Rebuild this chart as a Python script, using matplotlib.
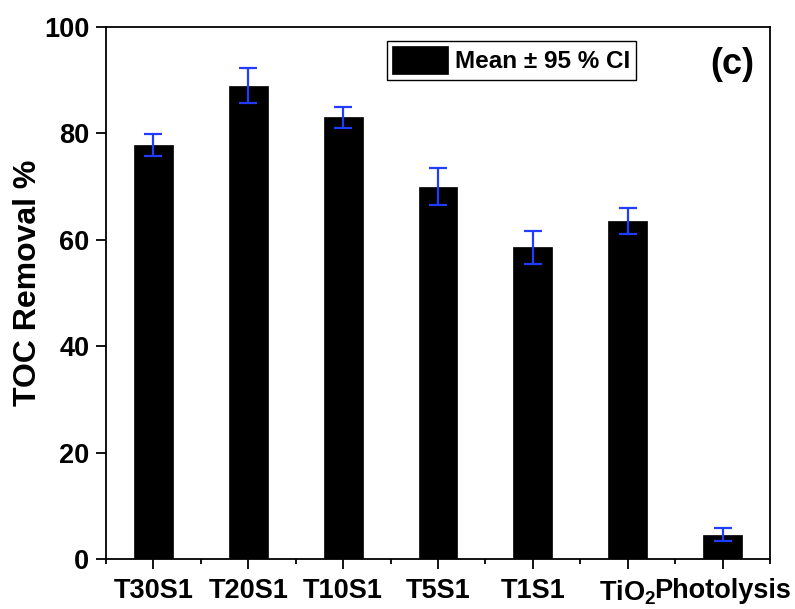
#Remocion de TOC por muestra, barras con intervalo de confianza 95 %

import matplotlib
matplotlib.use("Agg")
import matplotlib.pyplot as plt
from matplotlib.ticker import MultipleLocator, FixedLocator

plt.rcParams['font.family'] = ['Liberation Sans', 'DejaVu Sans']
plt.rcParams['font.weight'] = 'bold'
plt.rcParams['mathtext.fontset'] = 'custom'
plt.rcParams['mathtext.rm'] = 'Liberation Sans:bold'
plt.rcParams['mathtext.bf'] = 'Liberation Sans:bold'
plt.rcParams['mathtext.it'] = 'Liberation Sans:bold'

#Datos

muestras = ['T30S1', 'T20S1', 'T10S1', 'T5S1', 'T1S1', r'TiO$_2$', 'Photolysis']
toc = [77.8, 89.0, 83.0, 70.0, 58.6, 63.5, 4.6]
ic95 = [2.1, 3.2, 2.0, 3.5, 3.1, 2.5, 1.3]

#Grafico

fig = plt.figure(figsize=(7.95, 6.09), dpi=100)
ax = fig.add_axes([0.1333, 0.0821, 0.8353, 0.8736])

x = range(len(muestras))
barras = ax.bar(x, toc, width=0.41, color='k', edgecolor='k', linewidth=0.5,
                label='Mean ± 95 % CI')
ax.errorbar(x, toc, yerr=ic95, fmt='none', ecolor='#1f3cff', elinewidth=1.6,
            capsize=6.5, capthick=1.6)

ax.set_xlim(-0.5, 6.5)
ax.set_ylim(0, 100)
ax.set_xticks(list(x))
ax.set_xticklabels(muestras, fontsize=19.5, fontweight='bold')
ax.xaxis.set_minor_locator(FixedLocator([i - 0.5 for i in range(len(muestras) + 1)]))
ax.yaxis.set_major_locator(MultipleLocator(20))
for lab in ax.get_yticklabels():
    lab.set_fontsize(19.5); lab.set_fontweight('bold')

ax.tick_params(axis='both', which='major', direction='out', length=7, width=1.3, pad=5)
ax.tick_params(axis='x', which='major', pad=7)
ax.tick_params(axis='x', which='minor', direction='out', length=3.5, width=1.3)
ax.tick_params(axis='y', which='minor', left=False)
for s in ax.spines.values():
    s.set_linewidth(1.3)

ax.set_ylabel('TOC Removal %', fontsize=23, fontweight='bold', labelpad=1)
ax.yaxis.label.set_y(0.52)

leg = ax.legend(handles=[barras], loc='upper left', bbox_to_anchor=(0.423, 0.974),
                fontsize=17.5, frameon=True, fancybox=False, edgecolor='k',
                framealpha=1, handlelength=2.3, handleheight=1.4, borderpad=0.22,
                handletextpad=0.3, borderaxespad=0)
leg.get_frame().set_linewidth(1.0)

ax.text(0.943, 0.93, '(c)', transform=ax.transAxes, fontsize=26,
        fontweight='bold', ha='center', va='center')

fig.savefig('out.png', dpi=100)
